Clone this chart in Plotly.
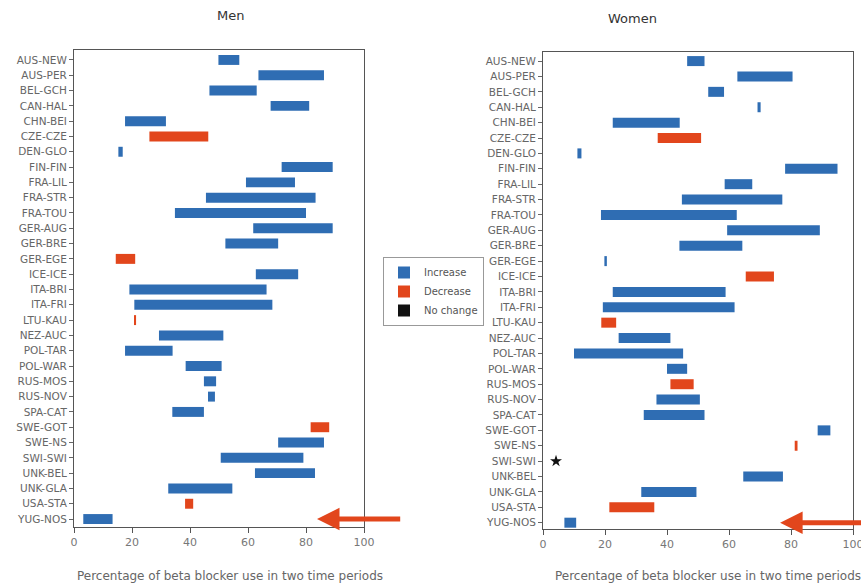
import plotly.graph_objects as go

categories = ["AUS-NEW", "AUS-PER", "BEL-GCH", "CAN-HAL", "CHN-BEI", "CZE-CZE", "DEN-GLO",
              "FIN-FIN", "FRA-LIL", "FRA-STR", "FRA-TOU", "GER-AUG", "GER-BRE", "GER-EGE",
              "ICE-ICE", "ITA-BRI", "ITA-FRI", "LTU-KAU", "NEZ-AUC", "POL-TAR", "POL-WAR",
              "RUS-MOS", "RUS-NOV", "SPA-CAT", "SWE-GOT", "SWE-NS", "SWI-SWI", "UNK-BEL",
              "UNK-GLA", "USA-STA", "YUG-NOS"]

# percentage of beta blocker use: first period, second period
men_period1 = [49.8, 63.6, 46.7, 67.8, 17.6, 46.3, 15.3, 71.6, 59.3, 45.5, 34.8, 61.8, 52.2, 21.1,
               62.7, 19.1, 20.8, 21.4, 29.3, 17.6, 38.5, 44.8, 46.2, 33.9, 88.0, 70.4, 50.6, 62.4,
               32.5, 41.1, 3.2]
men_period2 = [57.0, 86.2, 63.0, 81.1, 31.7, 26.0, 16.8, 89.2, 76.2, 83.3, 80.0, 89.2, 70.4, 14.4,
               77.3, 66.4, 68.4, 20.9, 51.5, 34.0, 50.9, 49.0, 48.6, 44.8, 81.6, 86.2, 79.1, 83.1,
               54.6, 38.3, 13.3]

women_period1 = [46.5, 62.7, 53.3, 69.2, 22.5, 51.0, 11.1, 78.1, 58.6, 44.8, 18.7, 59.4, 44.0, 19.8,
                 74.5, 22.5, 19.3, 23.6, 24.4, 10.0, 40.0, 48.6, 36.6, 32.5, 88.6, 82.1, 4.2, 64.6,
                 31.7, 35.9, 6.9]
women_period2 = [52.1, 80.5, 58.4, 70.2, 44.1, 37.0, 12.4, 95.0, 67.5, 77.2, 62.5, 89.3, 64.3, 20.6,
                 65.4, 58.9, 61.8, 18.8, 41.1, 45.2, 46.5, 41.1, 50.6, 52.1, 92.7, 81.2, 4.2, 77.4,
                 49.5, 21.4, 10.7]

x_ticks = [0, 20, 40, 60, 80, 100]
panel_titles = ["Men", "Women"]
x_title = "Percentage of beta blocker use in two time periods"
legend_names = ["Increase", "Decrease", "No change"]

BLUE = "#2f6db3"
RED = "#e2461c"
BLACK = "#111111"
FONT = "DejaVu Sans, Liberation Sans, Arial"

fig = go.Figure()


def add_panel(p1, p2, xa, ya, show_legend):
    inc = [(c, a, b) for c, a, b in zip(categories, p1, p2) if b > a]
    dec = [(c, a, b) for c, a, b in zip(categories, p1, p2) if b < a]
    same = [(c, a, b) for c, a, b in zip(categories, p1, p2) if b == a]
    fig.add_trace(go.Bar(
        orientation="h", y=[r[0] for r in inc], x=[r[2] - r[1] for r in inc],
        base=[r[1] for r in inc], marker=dict(color=BLUE, line=dict(width=0)),
        width=0.65, name=legend_names[0], legendgroup="inc", showlegend=show_legend,
        xaxis=xa, yaxis=ya))
    fig.add_trace(go.Bar(
        orientation="h", y=[r[0] for r in dec], x=[r[1] - r[2] for r in dec],
        base=[r[2] for r in dec], marker=dict(color=RED, line=dict(width=0)),
        width=0.65, name=legend_names[1], legendgroup="dec", showlegend=show_legend,
        xaxis=xa, yaxis=ya))
    if same:
        fig.add_trace(go.Scatter(
            y=[r[0] for r in same], x=[r[1] for r in same], mode="markers",
            marker=dict(symbol="star", size=9, color=BLACK), showlegend=False,
            legendgroup="same", xaxis=xa, yaxis=ya))


add_panel(men_period1, men_period2, "x", "y", True)
add_panel(women_period1, women_period2, "x2", "y2", False)

# legend-only entry for "No change"
fig.add_trace(go.Scatter(x=[None], y=[None], mode="markers", name=legend_names[2],
                         marker=dict(symbol="square", size=12, color=BLACK),
                         legendgroup="same", xaxis="x", yaxis="y"))

W, H = 861, 586
tick_font = dict(family=FONT, size=10.5, color="#666")

common_x = dict(range=[0, 100], tickvals=x_ticks, ticks="outside", ticklen=5, tickcolor="#555",
                showline=True, linecolor="#555", linewidth=1, mirror=True, showgrid=False,
                zeroline=False, tickfont=dict(family=FONT, size=11, color="#777"),
                ticklabeloverflow="allow", automargin=False, fixedrange=True)
common_y = dict(type="category", categoryorder="array", categoryarray=categories,
                ticks="outside", ticklen=4, tickcolor="#666", showline=True, linecolor="#555",
                linewidth=1, mirror=True, showgrid=False, zeroline=False, tickfont=tick_font,
                automargin=False, fixedrange=True)

fig.update_layout(
    width=W, height=H,
    margin=dict(l=0, r=0, t=0, b=0),
    paper_bgcolor="white", plot_bgcolor="white",
    barmode="overlay",
    showlegend=True,
    legend=dict(x=383 / W, y=(H - 257) / H, xanchor="left", yanchor="top",
                bgcolor="white", bordercolor="#999", borderwidth=1,
                font=dict(family=FONT, size=10, color="#555"),
                tracegroupgap=0, itemwidth=30),
    xaxis=dict(domain=[74 / W, 364 / W], anchor="y", **common_x),
    yaxis=dict(domain=[(H - 527) / H, (H - 50) / H], anchor="x",
               range=[30.52, -0.65], **common_y),
    xaxis2=dict(domain=[543 / W, 853 / W], anchor="y2", **common_x),
    yaxis2=dict(domain=[(H - 529) / H, (H - 52) / H], anchor="x2",
                range=[30.41, -0.59], **common_y),
)

annotations = [
    dict(text=panel_titles[0], x=230 / W, y=(H - 16) / H, xref="paper", yref="paper",
         xanchor="center", yanchor="middle", showarrow=False,
         font=dict(family=FONT, size=13, color="#333")),
    dict(text=panel_titles[1], x=632 / W, y=(H - 18) / H, xref="paper", yref="paper",
         xanchor="center", yanchor="middle", showarrow=False,
         font=dict(family=FONT, size=13, color="#333")),
    dict(text=x_title, x=230 / W, y=(H - 576) / H, xref="paper", yref="paper",
         xanchor="center", yanchor="middle", showarrow=False,
         font=dict(family=FONT, size=12, color="#666")),
    dict(text=x_title, x=708 / W, y=(H - 576) / H, xref="paper", yref="paper",
         xanchor="center", yanchor="middle", showarrow=False,
         font=dict(family=FONT, size=12, color="#666")),
    # arrows pointing at the YUG-NOS row
    dict(x=83.8, y="YUG-NOS", xref="x", yref="y", ax=113, ay=0, axref="x", ayref="pixel",
         showarrow=True, arrowhead=2, arrowsize=0.9, arrowwidth=5, arrowcolor=RED, text=""),
    dict(x=76.5, y="YUG-NOS", xref="x2", yref="y2", ax=106, ay=0, axref="x2", ayref="pixel",
         showarrow=True, arrowhead=2, arrowsize=0.9, arrowwidth=5, arrowcolor=RED, text=""),
]
fig.update_layout(annotations=annotations)

fig.write_html("out.html", config={"displayModeBar": False},
               post_script="document.body.style.margin='0';document.body.style.overflow='hidden';")
